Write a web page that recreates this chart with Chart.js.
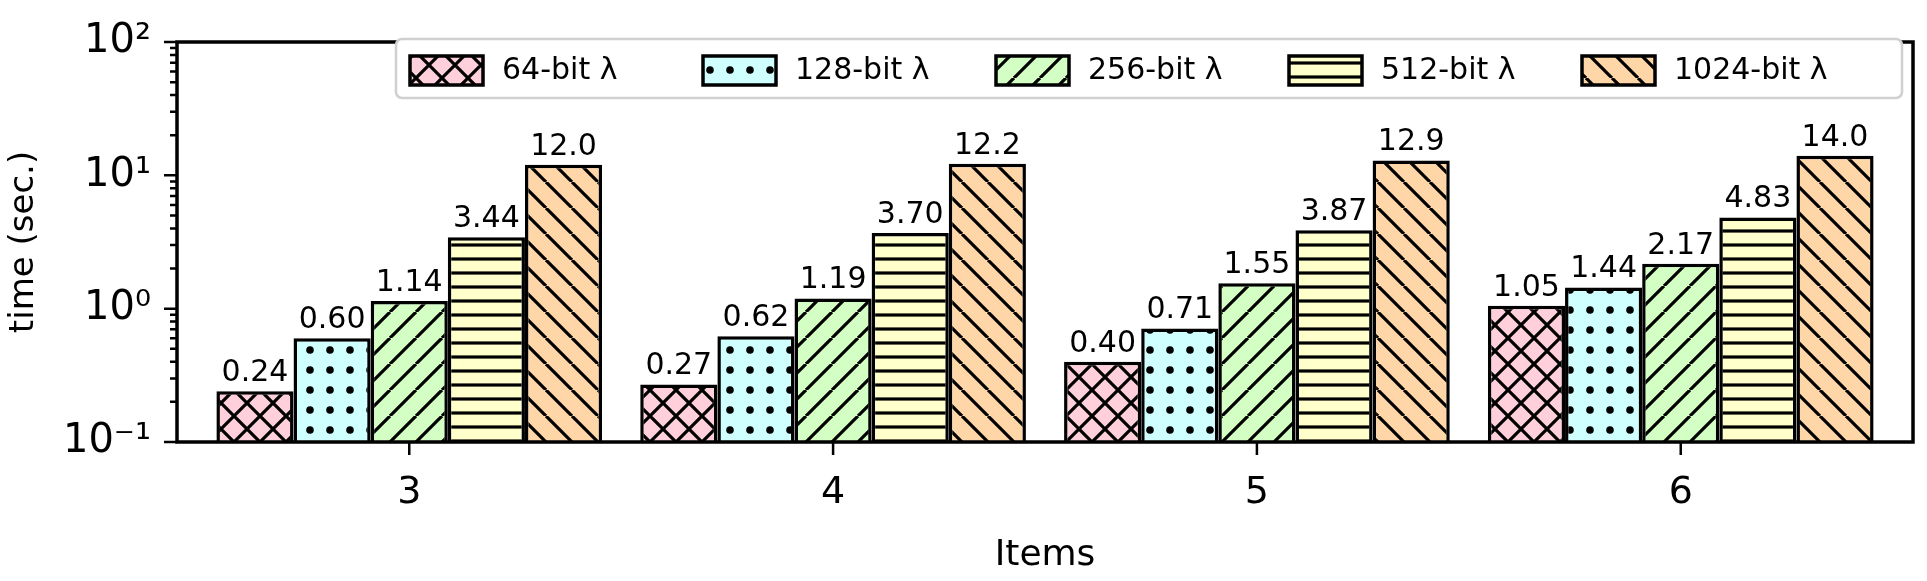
<!DOCTYPE html>
<html>
<head>
<meta charset="utf-8">
<script src="https://cdn.jsdelivr.net/npm/chart.js@4"></script>
<style>
  html, body { margin: 0; padding: 0; background: #fff; }
  #wrap { width: 1927px; height: 581px; }
</style>
</head>
<body>
<div id="wrap"><canvas id="chart"></canvas></div>
<script>
const items = [3, 4, 5, 6];
const seriesNames = ['64-bit λ', '128-bit λ', '256-bit λ', '512-bit λ', '1024-bit λ'];
const bit64 = [0.24, 0.27, 0.40, 1.05];
const bit128 = [0.60, 0.62, 0.71, 1.44];
const bit256 = [1.14, 1.19, 1.55, 2.17];
const bit512 = [3.44, 3.70, 3.87, 4.83];
const bit1024 = [12.0, 12.2, 12.9, 14.0];
const labelText = [
  ['0.24', '0.27', '0.40', '1.05'],
  ['0.60', '0.62', '0.71', '1.44'],
  ['1.14', '1.19', '1.55', '2.17'],
  ['3.44', '3.70', '3.87', '4.83'],
  ['12.0', '12.2', '12.9', '14.0']
];
const decadeTicks = [0.1, 1, 10, 100];
const decadeLabels = ['10⁻¹', '10⁰', '10¹', '10²'];

const fills = ['#ffd0dc', '#d0ffff', '#d4ffc4', '#ffffcc', '#ffd6a8'];
const hatches = ['cross', 'dots', 'fwd', 'horiz', 'back'];
const FONT = '"DejaVu Sans", sans-serif';

function makePattern(fill, kind) {
  const size = kind === 'horiz' ? 14 : (kind === 'dots' ? 20 : 26);
  const c = document.createElement('canvas');
  c.width = size; c.height = size;
  const g = c.getContext('2d');
  g.fillStyle = fill;
  g.fillRect(0, 0, size, size);
  g.strokeStyle = '#000';
  g.fillStyle = '#000';
  g.lineWidth = 3.2;
  g.beginPath();
  if (kind === 'fwd' || kind === 'cross') {
    for (let k = -1; k <= 1; k++) { g.moveTo(k * size, size); g.lineTo(k * size + size, 0); }
  }
  if (kind === 'back' || kind === 'cross') {
    for (let k = -1; k <= 1; k++) { g.moveTo(k * size, 0); g.lineTo(k * size + size, size); }
  }
  if (kind === 'horiz') { g.moveTo(0, 7); g.lineTo(size, 7); }
  g.stroke();
  if (kind === 'dots') {
    g.beginPath(); g.arc(size / 2, size / 2, 3.8, 0, Math.PI * 2); g.fill();
  }
  return document.getElementById('chart').getContext('2d').createPattern(c, 'repeat');
}

const patterns = fills.map((f, i) => makePattern(f, hatches[i]));
const allSeries = [bit64, bit128, bit256, bit512, bit1024];

const datasets = allSeries.map((vals, i) => ({
  label: seriesNames[i],
  data: vals.map((v, j) => ({ x: items[j], y: v })),
  backgroundColor: patterns[i],
  borderColor: '#000',
  borderWidth: 3.5,
  borderSkipped: 'bottom',
  categoryPercentage: 0.91,
  barPercentage: 1.0
}));

const extras = {
  id: 'extras',
  afterDatasetsDraw(chart) {
    const ctx = chart.ctx;
    const y = chart.scales.y;
    const x = chart.scales.x;
    const area = chart.chartArea;
    ctx.save();
    // value labels
    ctx.font = '30px ' + FONT;
    ctx.fillStyle = '#000';
    ctx.textAlign = 'center';
    ctx.textBaseline = 'bottom';
    chart.data.datasets.forEach((ds, i) => {
      chart.getDatasetMeta(i).data.forEach((bar, j) => {
        ctx.fillText(labelText[i][j], bar.x, bar.y - 3);
      });
    });
    // frame
    ctx.strokeStyle = '#000';
    ctx.lineWidth = 3.5;
    ctx.strokeRect(area.left, area.top, area.right - area.left, area.bottom - area.top);
    // y ticks (major + minor), x ticks
    ctx.lineWidth = 2.5;
    ctx.beginPath();
    for (let e = -1; e <= 1; e++) {
      for (let m = 1; m <= 10; m++) {
        const v = m * Math.pow(10, e);
        const py = y.getPixelForValue(v);
        const len = m === 1 || m === 10 ? 13 : 7;
        ctx.moveTo(area.left - len, py); ctx.lineTo(area.left, py);
      }
    }
    items.forEach(it => {
      const px = x.getPixelForValue(it);
      ctx.moveTo(px, area.bottom); ctx.lineTo(px, area.bottom + 13);
    });
    ctx.stroke();
    // legend
    ctx.fillStyle = '#fff';
    ctx.strokeStyle = '#d0d0d0';
    ctx.lineWidth = 2.5;
    ctx.beginPath();
    ctx.roundRect(396, 39, 1506, 59, 6);
    ctx.fill(); ctx.stroke();
    ctx.font = '30px ' + FONT;
    ctx.textAlign = 'left';
    ctx.textBaseline = 'middle';
    seriesNames.forEach((name, i) => {
      const lx = 410 + i * 293;
      ctx.fillStyle = patterns[i];
      ctx.fillRect(lx, 56, 73, 29);
      ctx.strokeStyle = '#000';
      ctx.lineWidth = 3.5;
      ctx.strokeRect(lx, 56, 73, 29);
      ctx.fillStyle = '#000';
      ctx.fillText(name, lx + 92, 71);
    });
    ctx.restore();
  }
};

new Chart(document.getElementById('chart'), {
  type: 'bar',
  data: { datasets },
  plugins: [extras],
  options: {
    responsive: true,
    maintainAspectRatio: false,
    animation: false,
    layout: { padding: { top: 22, right: 14, left: 0, bottom: 0 } },
    plugins: { legend: { display: false }, tooltip: { enabled: false } },
    scales: {
      x: {
        type: 'linear',
        min: 2.452,
        max: 6.548,
        offset: false,
        grid: { display: false },
        border: { display: false },
        afterBuildTicks(scale) { scale.ticks = items.map(v => ({ value: v })); },
        afterFit(scale) { scale.height = 139; },
        ticks: { font: { family: FONT, size: 38 }, color: '#000', padding: 20, maxRotation: 0 },
        title: { display: true, text: 'Items', font: { family: FONT, size: 36 }, color: '#000', padding: { top: 10 } }
      },
      y: {
        type: 'logarithmic',
        min: 0.1,
        max: 100,
        grid: { display: false },
        border: { display: false },
        afterBuildTicks(scale) { scale.ticks = decadeTicks.map(v => ({ value: v })); },
        afterFit(scale) { scale.width = 177; },
        ticks: {
          font: { family: FONT, size: 40 },
          color: '#000',
          padding: 18,
          callback: (v) => decadeLabels[decadeTicks.indexOf(v)]
        },
        title: { display: true, text: 'time (sec.)', font: { family: FONT, size: 34 }, color: '#000', padding: { bottom: 4 } }
      }
    }
  }
});
</script>
</body>
</html>
